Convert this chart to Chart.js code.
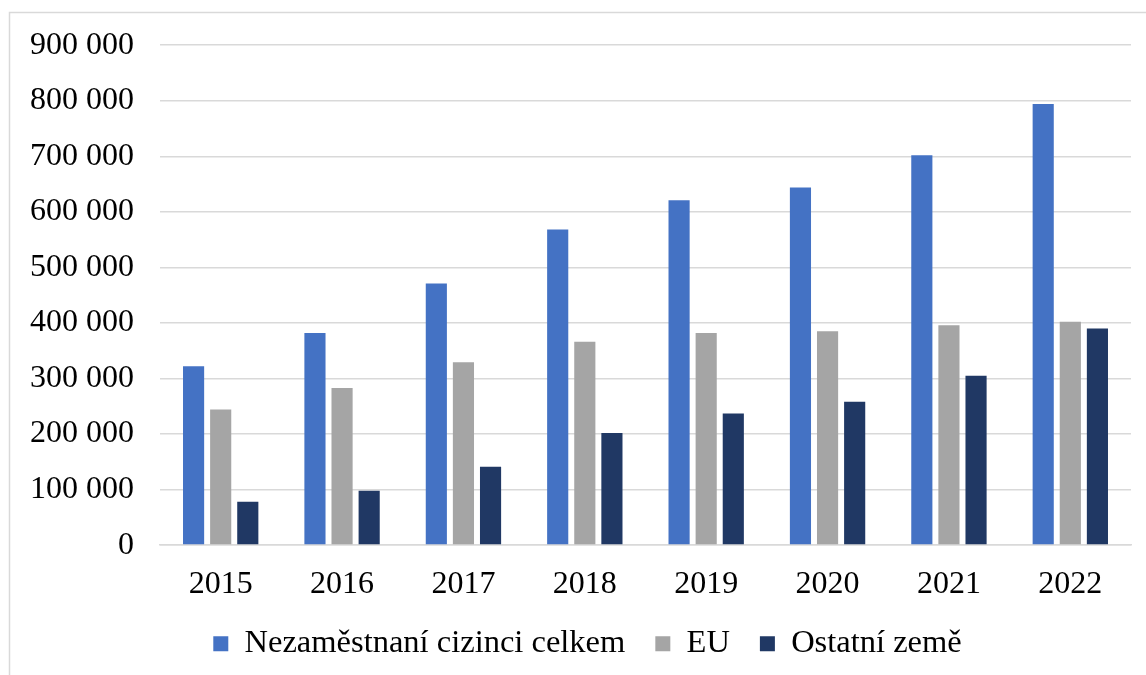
<!DOCTYPE html>
<html>
<head>
<meta charset="utf-8">
<script src="https://cdn.jsdelivr.net/npm/chart.js@4/dist/chart.umd.min.js"></script>
<style>
  html, body { margin: 0; padding: 0; background: #fff; }
  #wrap { width: 1146px; height: 675px; position: relative; }
</style>
</head>
<body>
<div id="wrap"><canvas id="chart" width="1146" height="675"></canvas></div>
<script>
// data
const years = ["2015", "2016", "2017", "2018", "2019", "2020", "2021", "2022"];
const celkem = [322000, 382000, 471000, 568000, 621000, 644000, 702000, 794000];
const eu = [244000, 283000, 329000, 366000, 382000, 385000, 396000, 402000];
const ostatni = [78000, 98000, 141000, 202000, 237000, 258000, 305000, 390000];
const seriesNames = ["Nezaměstnaní cizinci celkem", "EU", "Ostatní země"];
const colors = ["#4472C4", "#A5A5A5", "#203864"];

const serif = "'Liberation Serif', 'Times New Roman', serif";

function fmt(v) {
    return String(v).replace(/\B(?=(\d{3})+(?!\d))/g, " ");
}

// light frame round the chart, like the exported picture
const frame = {
    id: 'frame',
    beforeDraw(chart) {
        const ctx = chart.ctx;
        ctx.save();
        ctx.strokeStyle = "#d9d9d9";
        ctx.lineWidth = 1.5;
        ctx.beginPath();
        ctx.moveTo(9.5, 676);
        ctx.lineTo(9.5, 12.5);
        ctx.lineTo(1147, 12.5);
        ctx.stroke();
        ctx.restore();
    }
};

// legend padding is big (wide gaps between items), so pull the box up a bit
const legendShift = {
    id: 'legendShift',
    afterLayout(chart) {
        const lg = chart.legend;
        lg.top -= 18; lg.bottom -= 18;
        lg.left += 20; lg.right += 20;
    }
};

const data = {
    labels: years,
    datasets: [celkem, eu, ostatni].map((vals, i) => ({
        label: seriesNames[i],
        data: vals,
        backgroundColor: colors[i],
        borderWidth: 0,
        categoryPercentage: 0.67,
        barPercentage: 0.78
    }))
};

new Chart(document.getElementById('chart'), {
    type: 'bar',
    data: data,
    plugins: [frame, legendShift],
    options: {
        responsive: false,
        animation: false,
        layout: { padding: { left: 4, right: 15, top: 22, bottom: -13 } },
        plugins: {
            tooltip: { enabled: false },
            legend: {
                position: 'bottom',
                labels: {
                    color: "#000",
                    font: { family: serif, size: 32.5 },
                    boxWidth: 15,
                    boxHeight: 15,
                    padding: 30
                }
            }
        },
        scales: {
            x: {
                grid: { display: false },
                border: { color: "#d9d9d9", width: 1.5 },
                ticks: {
                    color: "#000",
                    font: { family: serif, size: 32 },
                    padding: 12
                }
            },
            y: {
                min: 0,
                max: 900000,
                grid: { color: "#d9d9d9", lineWidth: 1.5, drawTicks: false },
                border: { display: false },
                ticks: {
                    stepSize: 100000,
                    color: "#000",
                    font: { family: serif, size: 32 },
                    padding: 26,
                    callback: (v) => fmt(v)
                }
            }
        }
    }
});
</script>
</body>
</html>
